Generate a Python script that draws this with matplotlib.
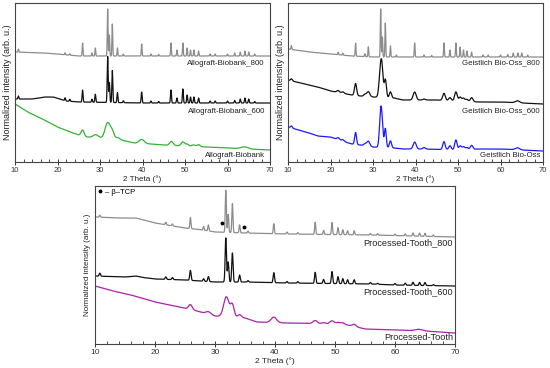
import numpy as np
import matplotlib.pyplot as plt

plt.rcParams['font.family'] = ['Liberation Sans', 'DejaVu Sans']

# 2 Theta grid for the profiles
tt = np.linspace(10, 70, 3001)

# hydroxyapatite reflections seen in the sharp (calcined) patterns
ha_pos = [10.8, 21.8, 22.9, 25.9, 28.1, 28.9, 31.8, 32.2, 32.9, 34.1, 35.5, 39.8, 42.0, 43.8,
          46.7, 48.1, 49.5, 50.5, 51.3, 52.1, 53.2, 55.9, 57.1, 60.0, 61.7, 63.0, 64.1, 65.0, 66.4]

# ---------------- Allograft-Biobank
ab800_bx = [10, 17, 25, 40, 70]
ab800_by = [110, 109, 106, 106, 106]
ab800_amp = [3, 2, 1.5, 13, 3, 8, 47, 21, 32, 8, 2, 12, 2, 1.5,
             13, 6, 13, 8, 6, 6, 5, 2, 2, 2, 3, 4, 5, 4, 2]

ab600_bx = [10, 14, 17, 19, 22, 25, 40, 70]
ab600_by = [63, 63, 65, 65, 61, 60, 59, 59]
ab600_amp = [3, 3, 2, 12, 3, 8, 46, 20, 32, 10, 2, 11, 2, 1.5,
             13, 5, 14, 8, 6, 6, 5, 2, 2, 2, 2.5, 4, 5, 4, 1.5]

ab_bx = [10, 13, 16, 20, 23, 25, 27, 30, 35, 38, 42, 45, 50, 55, 60, 65, 70]
ab_by = [58, 50, 44, 35, 30, 27, 25, 24, 22, 19, 18, 17, 16, 15, 14, 13, 12]
ab_pos = [25.9, 29.0, 31.8, 32.9, 34.2, 39.8, 46.8, 49.5, 50.5, 52.0, 53.2, 64.0]
ab_amp = [6, 3, 16, 7, 2, 4, 4, 4, 2, 1.5, 2, 2]
ab_wid = [0.35, 0.6, 0.6, 0.45, 0.4, 0.6, 0.4, 0.4, 0.35, 0.4, 0.35, 0.8]

# ---------------- Geistlich Bio-Oss
go800_bx = [10, 15, 20, 25, 30, 40, 70]
go800_by = [113, 110, 108, 106, 105, 105, 105]
go800_amp = [4, 2.5, 2, 13, 3, 10, 48, 20, 34, 11, 2, 14, 2, 1.5,
             14, 7, 14, 10, 7, 6, 5, 2, 2, 2, 2.5, 4, 4, 4, 2]

go600_bx = [10, 15, 17, 20, 25, 27, 30, 35, 37, 42, 45, 50, 55, 60, 65, 70]
go600_by = [82, 77, 75, 71, 67, 66, 65, 64, 62, 62, 62, 61, 60, 60, 59, 58]
go600_pos = [10.8, 21.8, 22.9, 25.9, 28.1, 28.9, 31.85, 32.2, 32.9, 34.1, 39.8, 42.0,
             46.7, 48.1, 49.5, 50.5, 51.3, 52.1, 53.2, 64.0]
go600_amp = [2, 2, 1.5, 12, 2, 5, 34, 10, 18, 6, 8, 1, 7, 3, 9, 4, 3, 2, 4, 2]
go600_wid = [0.2, 0.3, 0.3, 0.25, 0.3, 0.35, 0.35, 0.25, 0.25, 0.25, 0.35, 0.3,
             0.3, 0.3, 0.3, 0.3, 0.3, 0.3, 0.3, 0.5]

go_bx = [10, 15, 17, 20, 22, 25, 27, 30, 35, 37, 42, 50, 55, 60, 65, 70]
go_by = [35, 29, 26, 25, 22, 18, 17, 15, 14, 13, 13, 12, 13, 13, 12, 11]
go_pos = go600_pos
go_amp = [2, 2, 1.5, 12, 2, 5, 38, 8, 19, 7, 7, 1.5, 8, 4, 10, 4, 3, 2, 4, 2]
go_wid = [0.2, 0.3, 0.3, 0.22, 0.3, 0.35, 0.3, 0.25, 0.22, 0.25, 0.35, 0.3,
          0.28, 0.3, 0.28, 0.3, 0.3, 0.3, 0.3, 0.5]

# ---------------- Processed-Tooth
pt800_bx = [10, 14, 16.8, 20, 25, 28, 30, 35, 42, 56, 70]
pt800_by = [127, 126, 126, 121, 116, 114, 112, 111, 110, 109, 107]
pt800_amp = [2, 2.5, 2, 11, 3.5, 6, 42, 18, 29, 8, 2, 10, 2, 1.5,
             12, 4, 12, 7, 5, 4, 4, 1.5, 1.5, 1.5, 2, 3, 3, 3, 1.5]

pt600_bx = [10, 15, 16.8, 18, 20, 25, 30, 35, 42, 56, 60, 70]
pt600_by = [68, 67, 68, 66.5, 65, 64, 62, 62, 61, 60, 59, 58]
pt600_amp = [3, 2.5, 2, 10, 2.5, 5, 44, 20, 29, 7, 1.5, 10, 1.5, 1.5,
             11, 4, 12, 7, 5, 4, 4, 1.5, 1, 1.5, 2, 3, 3, 3, 1]

pt_bx = [10, 13, 16, 20, 24, 27, 30, 35, 37, 42, 51, 53, 55, 60, 65, 70]
pt_by = [58, 53, 49, 42, 37, 33, 28, 26, 22, 21, 20, 18, 15, 14, 13, 11]
pt_pos = [25.9, 28.9, 31.9, 32.9, 34.1, 39.8, 46.7, 48.1, 49.5, 50.5, 51.3, 53.2, 64.0]
pt_amp = [5, 2.5, 20, 12, 3, 5.5, 3, 1, 3, 1.5, 1.5, 2, 1.5]
pt_wid = [0.3, 0.4, 0.45, 0.3, 0.3, 0.45, 0.35, 0.3, 0.35, 0.3, 0.3, 0.3, 0.6]

# beta-TCP reflections marked on Processed-Tooth_800
tcp_x = [31.2, 34.8]
tcp_y = [121, 117]


# build one pattern: baseline through read points plus peaks
def pattern(bx, by, pos, amp, wid):
    y = np.interp(tt, bx, by)
    if np.isscalar(wid):
        wid = [wid] * len(pos)
    for p, a, w in zip(pos, amp, wid):
        y = y + a * np.exp(-(tt - p) ** 2 / (2 * w ** 2))
    return y


def setup(ax, ymax, fs_tick, fs_xl, fs_yl, ylpad):
    ax.set_xlim(10, 70)
    ax.set_ylim(0, ymax)
    ax.set_yticks([])
    ax.set_xticks(range(10, 71, 10))
    ax.set_xticks(range(10, 71, 2), minor=True)
    ax.tick_params(axis='x', which='major', direction='inout', length=4, width=0.7,
                   labelsize=fs_tick, pad=1.5, colors='#333333')
    ax.tick_params(axis='x', which='minor', direction='in', length=2, width=0.6, colors='#333333')
    for s in ax.spines.values():
        s.set_linewidth(0.8)
        s.set_color('#444444')
    ax.set_xlabel('2 Theta (°)', fontsize=fs_xl, labelpad=1, color='#222222')
    ax.set_ylabel('Normalized intensity (arb. u.)', fontsize=fs_yl, labelpad=ylpad, color='#222222')


fig = plt.figure(figsize=(5.5, 3.68), dpi=100)
ax1 = fig.add_axes([15 / 550, 1 - 162 / 368, 255 / 550, 159 / 368])
ax2 = fig.add_axes([288 / 550, 1 - 162 / 368, 255 / 550, 159 / 368])
ax3 = fig.add_axes([95 / 550, 1 - 344 / 368, 360 / 550, 158 / 368])

gray = '#8c8c8c'
black = '#111111'
lw = 0.9

# top left
ax1.plot(tt, pattern(ab800_bx, ab800_by, ha_pos, ab800_amp, 0.09), color=gray, lw=lw)
ax1.plot(tt, pattern(ab600_bx, ab600_by, ha_pos, ab600_amp, 0.11), color=black, lw=lw)
ax1.plot(tt, pattern(ab_bx, ab_by, ab_pos, ab_amp, ab_wid), color='#33b233', lw=lw)
setup(ax1, 159, 5.5, 5.8, 6.5, 2)
for txt, yy in [('Allograft-Biobank_800', 99), ('Allograft-Biobank_600', 51), ('Allograft-Biobank', 7)]:
    ax1.text(68.8, yy, txt, ha='right', va='center', fontsize=5.7, color='#222222')

# top right
ax2.plot(tt, pattern(go800_bx, go800_by, ha_pos, go800_amp, 0.09), color=gray, lw=lw)
ax2.plot(tt, pattern(go600_bx, go600_by, go600_pos, go600_amp, go600_wid), color=black, lw=lw)
ax2.plot(tt, pattern(go_bx, go_by, go_pos, go_amp, go_wid), color='#1a1aff', lw=lw)
setup(ax2, 159, 5.5, 5.8, 6.5, 2)
for txt, yy in [('Geistlich Bio-Oss_800', 99), ('Geistlich Bio-Oss_600', 51), ('Geistlich Bio-Oss', 7)]:
    ax2.text(69.3, yy, txt, ha='right', va='center', fontsize=5.7, color='#222222')

# bottom
ax3.plot(tt, pattern(pt800_bx, pt800_by, ha_pos, pt800_amp, 0.09), color=gray, lw=lw)
ax3.plot(tt, pattern(pt600_bx, pt600_by, ha_pos, pt600_amp, 0.11), color=black, lw=lw)
ax3.plot(tt, pattern(pt_bx, pt_by, pt_pos, pt_amp, pt_wid), color='#aa22aa', lw=lw)
ax3.plot(tcp_x, tcp_y, 'o', color='black', ms=1.8, label='– β–TCP')
ax3.legend(loc='upper left', frameon=False, fontsize=5.5, handlelength=0.6, handletextpad=0.4,
           borderaxespad=0.2, borderpad=0.1)
setup(ax3, 158, 6, 6, 5.8, 3)
for txt, yy in [('Processed-Tooth_800', 101), ('Processed-Tooth_600', 52), ('Processed-Tooth', 6)]:
    ax3.text(69.7, yy, txt, ha='right', va='center', fontsize=6.6, color='#222222')

fig.savefig('out.png', dpi=100)
